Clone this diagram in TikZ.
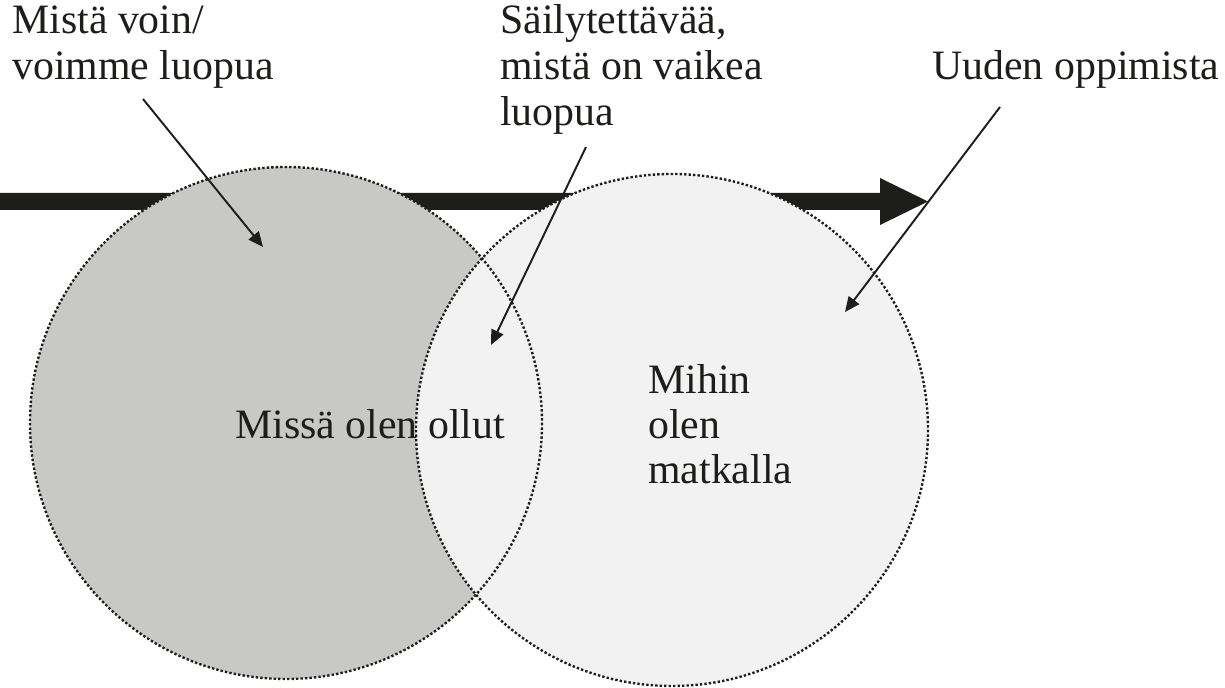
\documentclass[tikz,border=0pt]{standalone}
\usepackage{fontspec}
\setmainfont{Liberation Serif}
\usetikzlibrary{arrows.meta}

\definecolor{ink}{HTML}{1D1D1B}
\definecolor{pastfill}{HTML}{C8C8C7}
\definecolor{futurefill}{HTML}{F2F2F2}

\tikzset{
  labeltext/.style={anchor=base west, inner sep=0pt, text=ink,
    font=\fontsize{23.8}{28}\selectfont},
  ring/.style={draw=ink, line width=1.35pt, dash pattern=on 1.35pt off 1.2pt},
  pointer/.style={draw=ink, line width=1.1pt,
    -{Triangle[length=8.5pt,width=7.4pt]}},
}

\begin{document}
\begin{tikzpicture}[x=0.02cm,y=-0.02cm]
\useasboundingbox (0,0) rectangle (1225,688);

% timeline arrow, lying behind both circles
\fill[ink] (0,193) -- (880,193) -- (880,178) -- (928,201.5)
  -- (880,225) -- (880,210) -- (0,210) -- cycle;

% the two circles: past (dark) and future (light)
\coordinate (past) at (286,423);
\coordinate (future) at (672,430);
\fill[pastfill] (past) circle (256);
\fill[futurefill] (future) circle (256);
\draw[ring] (past) circle (256);
\draw[ring] (future) circle (256);

% labels above
\node[labeltext] (dropA) at (12,34) {Mistä voin/};
\node[labeltext] (dropB) at (12,80) {voimme luopua};
\node[labeltext] (keepA) at (500,34) {Säilytettävää,};
\node[labeltext] (keepB) at (500,80) {mistä on vaikea};
\node[labeltext] (keepC) at (500,126) {luopua};
\node[labeltext] (learn) at (932,80) {Uuden oppimista};

% labels inside the circles
\node[labeltext] (been) at (235,439) {Missä olen ollut};
\node[labeltext] (goA) at (648,394) {Mihin};
\node[labeltext] (goB) at (648,439) {olen};
\node[labeltext] (goC) at (648,484) {matkalla};

% pointer lines from the labels into the regions
\coordinate (dropS) at (143,99);
\coordinate (dropT) at (263,247);
\coordinate (keepS) at (586,147);
\coordinate (keepT) at (491,345);
\coordinate (learnS) at (1000,107);
\coordinate (learnT) at (845,312);
\draw[pointer] (dropS) -- (dropT);
\draw[pointer] (keepS) -- (keepT);
\draw[pointer] (learnS) -- (learnT);
\end{tikzpicture}
\end{document}
